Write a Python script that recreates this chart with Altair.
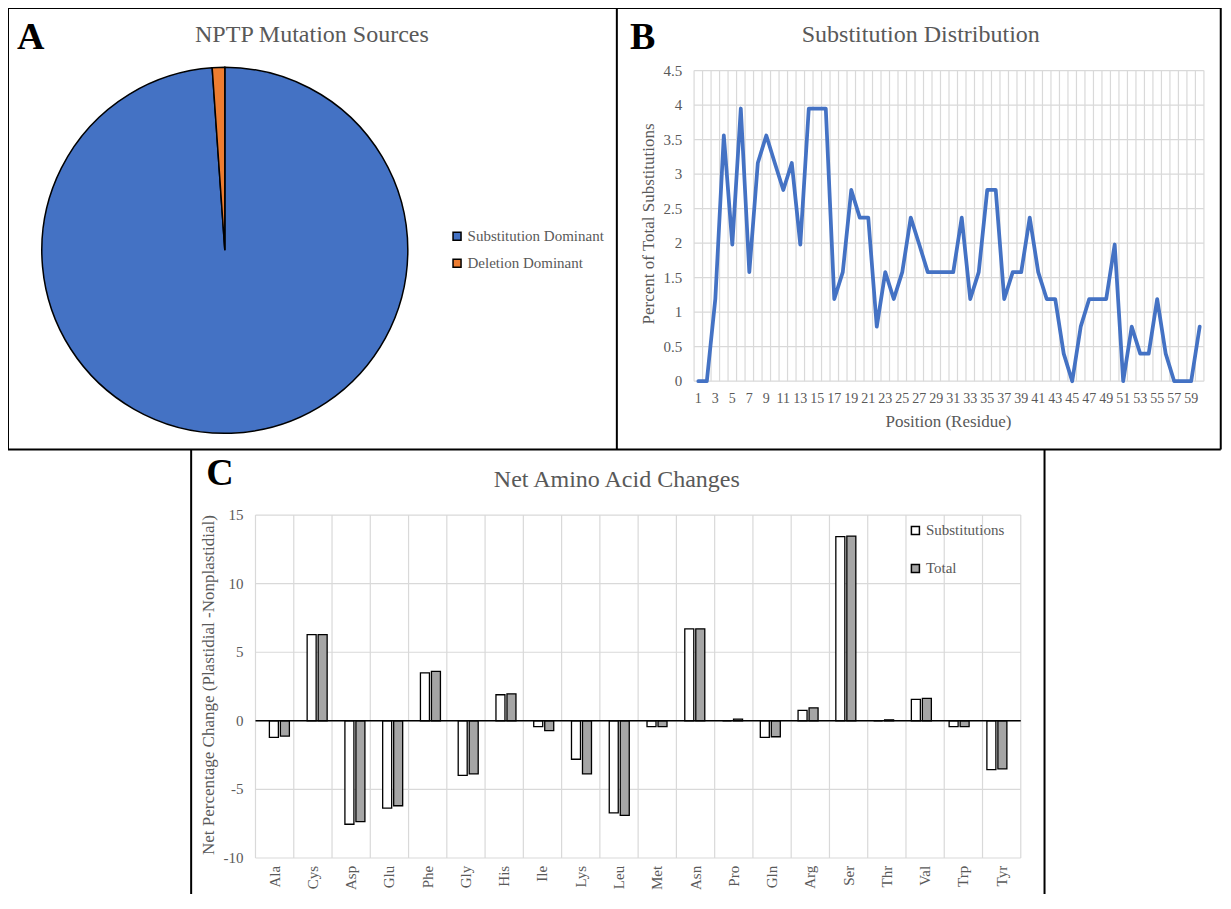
import altair as alt
import pandas as pd
import numpy as np

# ---------------- data ----------------
pie_labels = ["Substitution Dominant", "Deletion Dominant"]
pie_values = [98.9, 1.1]
pie_colors = ["#4472C4", "#ED7D31"]

positions = list(range(1, 61))
subst_pct = [0, 0, 1.19, 3.56, 1.98, 3.95, 1.58, 3.16, 3.56, 3.16,
             2.77, 3.16, 1.98, 3.95, 3.95, 3.95, 1.19, 1.58, 2.77, 2.37,
             2.37, 0.79, 1.58, 1.19, 1.58, 2.37, 1.98, 1.58, 1.58, 1.58,
             1.58, 2.37, 1.19, 1.58, 2.77, 2.77, 1.19, 1.58, 1.58, 2.37,
             1.58, 1.19, 1.19, 0.40, 0, 0.79, 1.19, 1.19, 1.19, 1.98,
             0, 0.79, 0.40, 0.40, 1.19, 0.40, 0, 0, 0, 0.79]
b_ticks = [0, 0.5, 1, 1.5, 2, 2.5, 3, 3.5, 4, 4.5]
b_tick_labels = ["0", "0.5", "1", "1.5", "2", "2.5", "3", "3.5", "4", "4.5"]
b_x_labels = [str(p) for p in positions]

amino = ["Ala", "Cys", "Asp", "Glu", "Phe", "Gly", "His", "Ile", "Lys", "Leu",
         "Met", "Asn", "Pro", "Gln", "Arg", "Ser", "Thr", "Val", "Trp", "Tyr"]
subs = [-1.21, 6.29, -7.54, -6.36, 3.49, -3.98, 1.90, -0.43, -2.80, -6.71,
        -0.43, 6.71, 0.0, -1.21, 0.76, 13.43, 0.0, 1.57, -0.43, -3.56]
total = [-1.11, 6.29, -7.35, -6.19, 3.60, -3.87, 1.97, -0.71, -3.87, -6.90,
         -0.43, 6.71, 0.12, -1.16, 0.95, 13.47, 0.07, 1.64, -0.43, -3.51]
c_ticks = [-10, -5, 0, 5, 10, 15]
c_tick_labels = ["-10", "-5", "0", "5", "10", "15"]
series_names = ["Substitutions", "Total"]
series_colors = ["white", "#A5A5A5"]

# ---------------- layout helpers ----------------
W, H = 1215, 886
SX, SY = 0.99, 0.977
FONT = "Liberation Serif"
GRAY_TXT = "#595959"
GRID = "#D9D9D9"


def X(r):
    return (r - 4) * SX


def Y(r):
    return (r - 4) * SY


one = pd.DataFrame({"k": [0]})


def text(t, x, y, size, color=GRAY_TXT, bold=False, angle=0, align="center"):
    return alt.Chart(one).mark_text(
        text=t, font=FONT, fontSize=size, color=color,
        fontWeight="bold" if bold else "normal", angle=angle,
        align=align, baseline="middle"
    ).encode(x=alt.value(x), y=alt.value(y))


def hline(x1, x2, y, color="black", w=2):
    return alt.Chart(one).mark_rule(color=color, strokeWidth=w).encode(
        x=alt.value(x1), x2=alt.value(x2), y=alt.value(y))


def vline(x, y1, y2, color="black", w=2):
    return alt.Chart(one).mark_rule(color=color, strokeWidth=w).encode(
        x=alt.value(x), y=alt.value(y1), y2=alt.value(y2))


def legend(x, y):
    return alt.Legend(
        title=None, orient="none", legendX=x, legendY=y,
        symbolType="square", symbolSize=64, symbolStrokeColor="black",
        symbolStrokeWidth=1.5, labelFont=FONT, labelFontSize=15,
        labelColor=GRAY_TXT, rowPadding=11, padding=0, labelOffset=3,
    )


# ---------------- frames ----------------
frames = [
    hline(X(4), X(1229), Y(4)),
    hline(X(4), X(1229), Y(456)),
    vline(X(4), Y(4), Y(456)),
    vline(X(619), Y(4), Y(456)),
    vline(X(1229), Y(4), Y(456)),
    vline(X(189), Y(456), H),
    vline(X(1051), Y(456), H),
]

letters = [
    text("A", X(27), Y(35), 38, color="black", bold=True),
    text("B", X(645), Y(35), 38, color="black", bold=True),
    text("C", X(218), Y(481), 38, color="black", bold=True),
]
titles = [
    text("NPTP Mutation Sources", X(311), Y(32), 24),
    text("Substitution Distribution", X(926), Y(32), 24),
    text("Net Amino Acid Changes", X(619), Y(487), 24),
]

# ---------------- panel A ----------------
dfA = pd.DataFrame({"source": pie_labels, "value": pie_values, "ord": [0, 1]})
pie = alt.Chart(dfA).mark_arc(radius=183, stroke="black", strokeWidth=1.5).encode(
    theta=alt.Theta("value:Q", stack=True),
    order=alt.Order("ord:Q"),
    color=alt.Color("source:N",
                    scale=alt.Scale(domain=pie_labels, range=pie_colors),
                    legend=legend(X(450), Y(230))),
    x=alt.value(X(223)),
    y=alt.value(Y(252)),
)

# ---------------- panel B ----------------
def xB():
    return alt.Scale(domain=[0.5, 60.5], range=[X(697), X(1212)], nice=False, zero=False)


def yB():
    return alt.Scale(domain=[0, 4.5], range=[Y(386), Y(68)], nice=False, zero=False)


dfB = pd.DataFrame({"pos": positions, "pct": subst_pct, "lab": b_x_labels})
dfBgrid = pd.DataFrame({"g": np.arange(0.5, 61, 1.0)})
dfBticks = pd.DataFrame({"t": b_ticks, "lab": b_tick_labels})

panelB = [
    alt.Chart(dfBgrid).mark_rule(color=GRID, strokeWidth=1.2).encode(
        x=alt.X("g:Q", scale=xB(), axis=None), y=alt.value(Y(68)), y2=alt.value(Y(386))),
    alt.Chart(dfBticks).mark_rule(color=GRID, strokeWidth=1.2).encode(
        y=alt.Y("t:Q", scale=yB(), axis=None), x=alt.value(X(697)), x2=alt.value(X(1212))),
    alt.Chart(dfB).mark_line(color="#4472C4", strokeWidth=3.75,
                             strokeJoin="round", strokeCap="round").encode(
        x=alt.X("pos:Q", scale=xB(), axis=None), y=alt.Y("pct:Q", scale=yB(), axis=None)),
    alt.Chart(dfBticks).mark_text(font=FONT, fontSize=15, color=GRAY_TXT,
                                  align="right", baseline="middle").encode(
        y=alt.Y("t:Q", scale=yB(), axis=None), x=alt.value(X(685)), text="lab:N"),
    alt.Chart(dfB[dfB["pos"] % 2 == 1]).mark_text(
        font=FONT, fontSize=14, color=GRAY_TXT, align="center", baseline="middle").encode(
        x=alt.X("pos:Q", scale=xB(), axis=None), y=alt.value(Y(404)), text="lab:N"),
    text("Percent of Total Substitutions", X(651), Y(225), 17, angle=270),
    text("Position (Residue)", X(954), Y(428), 17),
]

# ---------------- panel C ----------------
def xC():
    return alt.Scale(domain=[-0.5, 19.5], range=[X(254), X(1027)], nice=False, zero=False)


def yC():
    return alt.Scale(domain=[-10, 15], range=[Y(874), Y(523)], nice=False, zero=False)


dfC = pd.DataFrame({"idx": list(range(len(amino))), "aa": amino,
                    "subs": subs, "total": total, "zero": 0.0})
dfCgrid = pd.DataFrame({"g": np.arange(-0.5, 20, 1.0)})
dfCticks = pd.DataFrame({"t": c_ticks, "lab": c_tick_labels})
dfCzero = pd.DataFrame({"z": [0.0]})

panelC = [
    alt.Chart(dfCgrid).mark_rule(color=GRID, strokeWidth=1.2).encode(
        x=alt.X("g:Q", scale=xC(), axis=None), y=alt.value(Y(523)), y2=alt.value(Y(874))),
    alt.Chart(dfCticks).mark_rule(color=GRID, strokeWidth=1.2).encode(
        y=alt.Y("t:Q", scale=yC(), axis=None), x=alt.value(X(254)), x2=alt.value(X(1027))),
    alt.Chart(dfC.assign(series=series_names[0])).mark_bar(
        width=9, xOffset=-5.5, stroke="black", strokeWidth=1.3, orient="vertical").encode(
        x=alt.X("idx:Q", scale=xC(), axis=None),
        y=alt.Y("subs:Q", scale=yC(), axis=None), y2="zero:Q",
        fill=alt.Fill("series:N",
                      scale=alt.Scale(domain=[series_names[0]], range=[series_colors[0]]),
                      legend=legend(X(913), Y(531)))),
    alt.Chart(dfC.assign(series=series_names[1])).mark_bar(
        width=9, xOffset=5.5, stroke="black", strokeWidth=1.3, orient="vertical").encode(
        x=alt.X("idx:Q", scale=xC(), axis=None),
        y=alt.Y("total:Q", scale=yC(), axis=None), y2="zero:Q",
        fill=alt.Fill("series:N",
                      scale=alt.Scale(domain=[series_names[1]], range=[series_colors[1]]),
                      legend=legend(X(913), Y(570)))),
    alt.Chart(dfCzero).mark_rule(color="black", strokeWidth=1.6).encode(
        y=alt.Y("z:Q", scale=yC(), axis=None), x=alt.value(X(254)), x2=alt.value(X(1027))),
    alt.Chart(dfCticks).mark_text(font=FONT, fontSize=15, color=GRAY_TXT,
                                  align="right", baseline="middle").encode(
        y=alt.Y("t:Q", scale=yC(), axis=None), x=alt.value(X(242)), text="lab:N"),
    alt.Chart(dfC).mark_text(font=FONT, fontSize=15, color=GRAY_TXT,
                             baseline="middle", align="right", angle=270).encode(
        x=alt.X("idx:Q", scale=xC(), axis=None), y=alt.value(Y(882)), text="aa:N",
        angle=alt.value(270)),
    text("Net Percentage Change (Plastidial -Nonplastidial)", X(207), Y(697), 17, angle=270),
]

chart = alt.layer(
    *frames, *letters, *titles, pie, *panelB, *panelC
).resolve_scale(
    x="independent", y="independent", color="independent", fill="independent"
).properties(
    width=W, height=H, padding=0,
    autosize=alt.AutoSizeParams(type="none"),
    background="white",
).configure_view(stroke=None).configure_legend(
    labelFont=FONT, labelFontSize=15, labelColor=GRAY_TXT
).configure_text(font=FONT)

chart.save("out.html", embed_options={"renderer": "svg", "actions": False})
